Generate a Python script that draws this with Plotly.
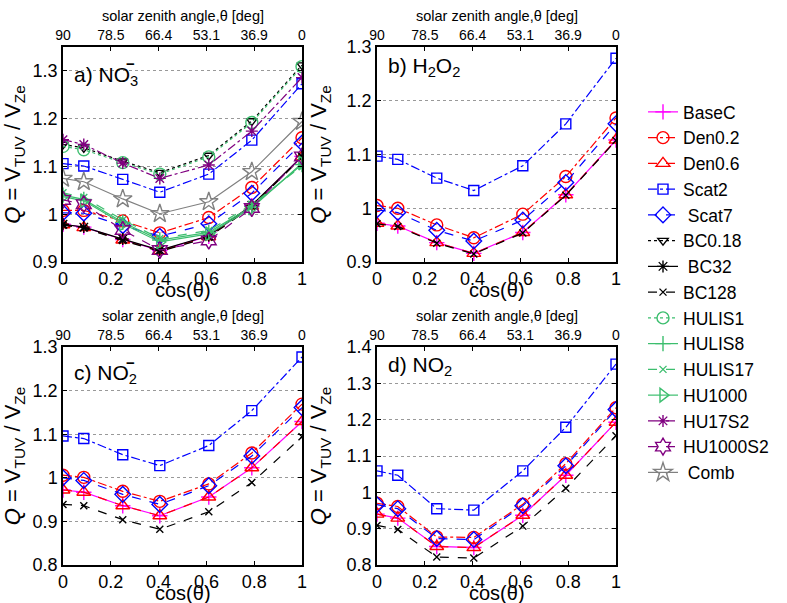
import plotly.graph_objects as go

# ---------------- data ----------------
cos_theta = [0, 0.087, 0.25, 0.405, 0.61, 0.79, 1.0]
bottom_tickvals = [0, 0.2, 0.4, 0.6, 0.8, 1.0]
top_tickvals = [0, 0.2, 0.4, 0.6, 0.8, 1.0]
top_ticktext = ["90", "78.5", "66.4", "53.1", "36.9", "0"]

names = ["BaseC", "Den0.2", "Den0.6", "Scat2", " Scat7", "BC0.18", " BC32", "BC128",
         "HULIS1", "HULIS8", "HULIS17", "HU1000", "HU17S2", "HU1000S2", " Comb"]

# a) NO3-
a_vals = {
    "BaseC":    [0.979, 0.973, 0.947, 0.924, 0.954, 1.018, 1.121],
    "Den0.2":   [1.008, 1.008, 0.986, 0.961, 0.993, 1.056, 1.160],
    "Den0.6":   [0.978, 0.972, 0.946, 0.923, 0.953, 1.017, 1.120],
    "Scat2":    [1.106, 1.101, 1.073, 1.046, 1.084, 1.155, 1.273],
    " Scat7":   [1.003, 1.002, 0.976, 0.954, 0.980, 1.044, 1.149],
    "BC0.18":   [1.146, 1.139, 1.111, 1.087, 1.123, 1.195, 1.312],
    " BC32":    [0.979, 0.973, 0.948, 0.925, 0.955, 1.019, 1.121],
    "BC128":    [0.977, 0.971, 0.945, 0.922, 0.952, 1.016, 1.119],
    "HULIS1":   [1.142, 1.135, 1.108, 1.084, 1.120, 1.192, 1.309],
    "HULIS8":   [1.040, 1.031, 0.983, 0.946, 0.962, 1.016, 1.104],
    "HULIS17":  [1.045, 1.035, 0.988, 0.949, 0.966, 1.020, 1.101],
    "HU1000":   [1.037, 1.028, 0.980, 0.942, 0.959, 1.013, 1.107],
    "HU17S2":   [1.156, 1.146, 1.107, 1.075, 1.103, 1.174, 1.286],
    "HU1000S2": [1.030, 1.021, 0.967, 0.925, 0.945, 1.013, 1.121],
    " Comb":    [1.075, 1.068, 1.032, 1.001, 1.026, 1.089, 1.194],
}

# b) H2O2
b_vals = {
    "BaseC":  [0.972, 0.967, 0.936, 0.916, 0.955, 1.025, 1.127],
    "Den0.2": [1.005, 1.000, 0.969, 0.945, 0.989, 1.059, 1.168],
    "Den0.6": [0.972, 0.967, 0.936, 0.916, 0.955, 1.025, 1.127],
    "Scat2":  [1.097, 1.091, 1.056, 1.033, 1.079, 1.157, 1.279],
    " Scat7": [0.997, 0.992, 0.959, 0.939, 0.978, 1.048, 1.157],
    "BC128":  [0.971, 0.966, 0.935, 0.915, 0.954, 1.024, 1.126],
}

# c) NO2-
c_vals = {
    "BaseC":  [0.972, 0.967, 0.936, 0.913, 0.956, 1.023, 1.129],
    "Den0.2": [1.006, 1.001, 0.969, 0.946, 0.986, 1.057, 1.169],
    "Den0.6": [0.972, 0.967, 0.936, 0.913, 0.956, 1.023, 1.129],
    "Scat2":  [1.096, 1.090, 1.053, 1.028, 1.074, 1.154, 1.277],
    " Scat7": [1.000, 0.994, 0.962, 0.939, 0.982, 1.050, 1.161],
    "BC128":  [0.939, 0.936, 0.904, 0.882, 0.922, 0.989, 1.094],
}

# d) NO2
d_vals = {
    "BaseC":  [0.940, 0.929, 0.851, 0.848, 0.937, 1.047, 1.193],
    "Den0.2": [0.970, 0.961, 0.877, 0.876, 0.967, 1.079, 1.233],
    "Den0.6": [0.940, 0.929, 0.851, 0.848, 0.937, 1.047, 1.193],
    "Scat2":  [1.059, 1.047, 0.955, 0.951, 1.059, 1.179, 1.353],
    " Scat7": [0.966, 0.955, 0.873, 0.870, 0.963, 1.073, 1.228],
    "BC128":  [0.909, 0.898, 0.822, 0.819, 0.907, 1.011, 1.156],
}

panel_labels = ["a) NO<sub>3</sub>", "b) H<sub>2</sub>O<sub>2</sub>",
                "c) NO<sub>2</sub>", "d) NO<sub>2</sub>"]
panel_charge = ["\u2212", "", "\u2212", ""]
y_ranges = [[0.9, 1.35], [0.9, 1.3], [0.8, 1.3], [0.8, 1.4]]

# ---------------- styles ----------------
GREEN = "#3CBE6E"
PURPLE = "#800080"
GRAY = "#808080"
style = {
    "BaseC":    ("#FF00FF", "solid",   "cross-thin-open"),
    "Den0.2":   ("#FF0000", "dashdot", "circle-open"),
    "Den0.6":   ("#FF0000", "dash",    "triangle-up-open"),
    "Scat2":    ("#0000FF", "dashdot", "square-open"),
    " Scat7":   ("#0000FF", "dash",    "diamond-open"),
    "BC0.18":   ("#000000", "dot",     "triangle-down-open"),
    " BC32":    ("#000000", "solid",   "asterisk-open"),
    "BC128":    ("#000000", "dash",    "x-thin-open"),
    "HULIS1":   (GREEN,     "dot",     "circle-open"),
    "HULIS8":   (GREEN,     "solid",   "cross-thin-open"),
    "HULIS17":  (GREEN,     "dash",    "x-thin-open"),
    "HU1000":   (GREEN,     "solid",   "triangle-right-open"),
    "HU17S2":   (PURPLE,    "dashdot", "asterisk-open"),
    "HU1000S2": (PURPLE,    "dash",    "hexagram-open"),
    " Comb":    (GRAY,      "solid",   "star-open"),
}
msize = {"circle-open": 12, "triangle-up-open": 12, "square-open": 10, "diamond-open": 12,
         "triangle-down-open": 9, "asterisk-open": 10, "x-thin-open": 7, "cross-thin-open": 11,
         "triangle-right-open": 12, "hexagram-open": 13, "star-open": 14}

W, H = 787, 603
FONT = "Liberation Sans, Arial, sans-serif"
xdom_px = [[63, 302], [377, 616]]
ydom_px = [[47, 262], [347, 565]]


def px_x(p):
    return p / W


def px_y(p):
    return 1 - p / H


fig = go.Figure()
panels = [a_vals, b_vals, c_vals, d_vals]
for i, vals in enumerate(panels):
    xa = "x" if i == 0 else f"x{i+1}"
    ya = "y" if i == 0 else f"y{i+1}"
    for n in names:
        if n not in vals:
            continue
        col, dash, sym = style[n]
        fig.add_trace(go.Scatter(
            x=cos_theta, y=vals[n], name=n, mode="lines+markers",
            xaxis=xa, yaxis=ya, showlegend=(i == 0),
            line=dict(color=col, dash=dash, width=1.2),
            marker=dict(symbol=sym, size=msize[sym], color=col,
                        line=dict(color=col, width=1.4)),
        ))
    # invisible carrier so that the top (zenith-angle) axis is drawn
    fig.add_trace(go.Scatter(
        x=cos_theta, y=vals["BaseC"], xaxis=f"x{i+5}", yaxis=ya, mode="markers",
        marker=dict(opacity=0), hoverinfo="skip", showlegend=False,
    ))

layout = dict(
    width=W, height=H, margin=dict(l=0, r=0, t=0, b=0, autoexpand=False),
    paper_bgcolor="white", plot_bgcolor="white",
    font=dict(family=FONT, color="black"),
    legend=dict(x=px_x(643), y=px_y(94), xanchor="left", yanchor="top",
                font=dict(size=17.5), itemwidth=30, tracegroupgap=0,
                bgcolor="rgba(0,0,0,0)"),
    annotations=[],
)

for i in range(4):
    row, colm = divmod(i, 2)
    xk = "xaxis" if i == 0 else f"xaxis{i+1}"
    yk = "yaxis" if i == 0 else f"yaxis{i+1}"
    yid = "y" if i == 0 else f"y{i+1}"
    xid = "x" if i == 0 else f"x{i+1}"
    x0, x1 = xdom_px[colm]
    yt, yb = ydom_px[row]
    layout[xk] = dict(
        domain=[px_x(x0), px_x(x1)], anchor=yid, range=[0, 1], tickvals=bottom_tickvals,
        showline=True, linecolor="black", linewidth=1.5, mirror=True,
        ticks="inside", ticklen=4, tickcolor="black", showgrid=False, zeroline=False,
        tickfont=dict(size=18), automargin=False,
    )
    layout[yk] = dict(
        domain=[px_y(yb), px_y(yt)], anchor=xid, range=y_ranges[i], dtick=0.1,
        showline=True, linecolor="black", linewidth=1.5, mirror="ticks",
        ticks="inside", ticklen=4, tickcolor="black",
        showgrid=True, gridcolor="#999999", griddash="dot", gridwidth=1, zeroline=False,
        tickfont=dict(size=18), automargin=False,
        title=dict(text="<i>Q</i> = V<sub>TUV</sub> / V<sub>Ze</sub>", font=dict(size=22),
                   standoff=9 if colm == 0 else 14),
    )
    layout[f"xaxis{i+5}"] = dict(
        overlaying=xid, anchor=yid, side="top", range=[0, 1],
        tickvals=top_tickvals, ticktext=top_ticktext, tickfont=dict(size=14),
        ticks="inside", ticklen=4, tickcolor="black", showline=True, linecolor="black",
        linewidth=1.5, showgrid=False, zeroline=False, automargin=False,
    )
    xc = px_x((x0 + x1) / 2)
    # axis titles
    layout["annotations"].append(dict(
        text="solar zenith angle,\u03b8 [deg]", xref="paper", yref="paper",
        x=xc, y=px_y(yt - 31), xanchor="center", yanchor="middle", showarrow=False,
        font=dict(size=14.5)))
    layout["annotations"].append(dict(
        text="cos(\u03b8)", xref="paper", yref="paper",
        x=xc, y=px_y(yb + 28), xanchor="center", yanchor="middle", showarrow=False,
        font=dict(size=20)))
    # panel label
    lab_y = [72, 63, 370, 362][i]
    layout["annotations"].append(dict(
        text=panel_labels[i], xref="paper", yref="paper",
        x=px_x(x0 + 9), y=px_y(lab_y + 4), xanchor="left", yanchor="middle", showarrow=False,
        font=dict(size=21)))
    if panel_charge[i]:
        layout["annotations"].append(dict(
            text="<b>" + panel_charge[i] + "</b>", xref="paper", yref="paper",
            x=px_x(x0 + 67), y=px_y(lab_y - 8), xanchor="center", yanchor="middle",
            showarrow=False, font=dict(size=15)))

fig.update_layout(**layout)
fig.write_html("out.html", config={"displayModeBar": False},
               post_script="document.body.style.margin='0';")
